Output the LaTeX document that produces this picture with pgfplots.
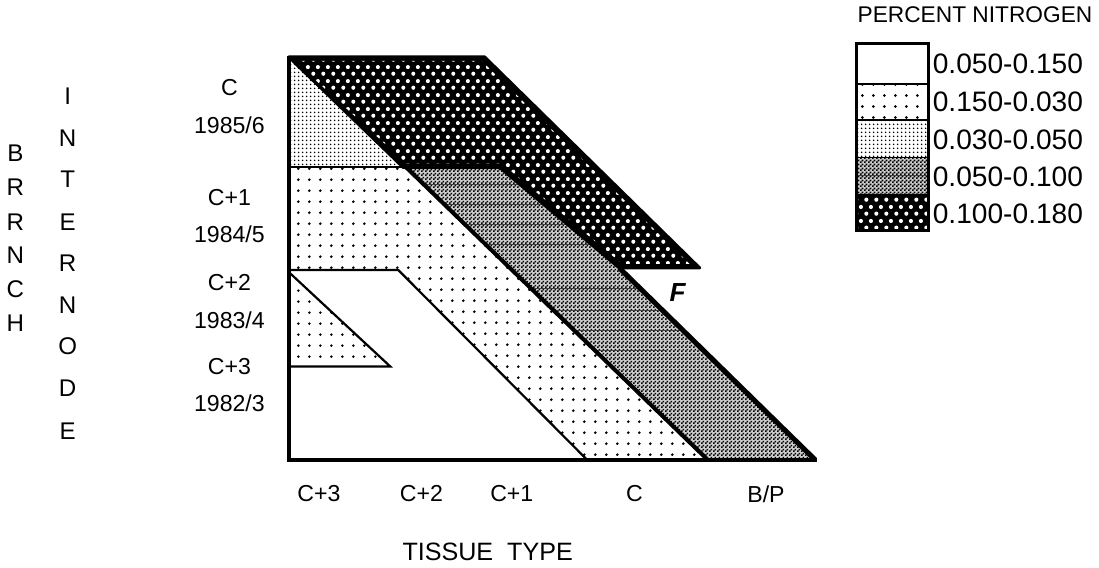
\documentclass[border=0pt]{standalone}
\usepackage{pgfplots}
\pgfplotsset{compat=1.18}
\usepackage{fontspec}
\setmainfont{Liberation Sans}
\usetikzlibrary{patterns}

% sparse dots: 0.150-0.030
\pgfdeclarepatternformonly{sparsedots}{\pgfqpoint{0pt}{0pt}}{\pgfqpoint{5.4pt}{5.4pt}}{\pgfqpoint{5.4pt}{5.4pt}}{%
  \pgfpathcircle{\pgfqpoint{2.7pt}{2.7pt}}{0.75pt}\pgfusepath{fill}}
% fine dots: 0.030-0.050
\pgfdeclarepatternformonly{finedots}{\pgfqpoint{0pt}{0pt}}{\pgfqpoint{2pt}{2pt}}{\pgfqpoint{2pt}{2pt}}{%
  \pgfpathcircle{\pgfqpoint{1pt}{1pt}}{0.52pt}\pgfusepath{fill}}
% checker: 0.050-0.100
\pgfdeclarepatternformonly{checker}{\pgfqpoint{0pt}{0pt}}{\pgfqpoint{2pt}{2pt}}{\pgfqpoint{2pt}{2pt}}{%
  \pgfpathrectangle{\pgfqpoint{0pt}{0pt}}{\pgfqpoint{1pt}{1pt}}%
  \pgfpathrectangle{\pgfqpoint{1pt}{1pt}}{\pgfqpoint{1pt}{1pt}}\pgfusepath{fill}}
% white holes on black: 0.100-0.180
\pgfdeclarepatternformonly{holes}{\pgfqpoint{0pt}{0pt}}{\pgfqpoint{5pt}{7pt}}{\pgfqpoint{5pt}{7pt}}{%
  \pgfpathcircle{\pgfqpoint{1.25pt}{1.75pt}}{1.1pt}%
  \pgfpathcircle{\pgfqpoint{3.75pt}{5.25pt}}{1.1pt}\pgfusepath{fill}}

\pgfplotsset{
  lvlA/.style={fill=white, draw=none},
  lvlB/.style={pattern=sparsedots, pattern color=black, draw=none},
  lvlC/.style={pattern=finedots, pattern color=black, draw=none},
  lvlD/.style={pattern=checker, pattern color=black, draw=none},
  lvlE/.style={pattern=holes, pattern color=white, draw=none},
  hatchline/.style={black!75, line width=0.5pt},
}

\begin{document}
\begin{tikzpicture}
\begin{axis}[
  width=549.5pt, height=287.5pt, scale only axis,
  xmin=0, xmax=1099, ymin=0, ymax=575, y dir=reverse,
  hide axis, clip=false,
]
% ---- regions of the diagram ----
% 0.150-0.030, internode C+1 band
\addplot[lvlB] coordinates {(288,170) (405,170) (705,461) (585,461) (397,272) (288,272)} -- cycle;
% 0.150-0.030, C+2 triangle
\addplot[lvlB] coordinates {(288,274) (389,368) (288,368)} -- cycle;
% 0.030-0.050, C triangle
\addplot[lvlC] coordinates {(288,60) (402,170) (288,170)} -- cycle;
% 0.050-0.100 band
\addplot[fill=gray!40, draw=none] coordinates {(405,170) (498,170) (617,270) (812,461) (705,461)} -- cycle;
\addplot[lvlD] coordinates {(405,170) (498,170) (617,270) (812,461) (705,461)} -- cycle;
\addplot[hatchline] coordinates {(423,187) (518,187)};
\addplot[hatchline] coordinates {(443,207) (542,207)};
\addplot[hatchline] coordinates {(464,227) (566,227)};
\addplot[hatchline] coordinates {(484,247) (590,247)};
\addplot[hatchline] coordinates {(529,290) (637,290)};
\addplot[hatchline] coordinates {(551,312) (660,312)};
\addplot[hatchline] coordinates {(572,332) (680,332)};
\addplot[hatchline] coordinates {(593,352) (663,352)};
% 0.100-0.180 band
\addplot[fill=black, draw=black, line width=1.5pt, line join=round] coordinates {(288,60) (483,60) (697,270) (617,270) (498,170) (402,170)} -- cycle;
\addplot[lvlE] coordinates {(294,64) (480,64) (687,266) (620,266) (500,166) (405,166)} -- cycle;

% ---- boundary lines ----
\addplot[black, line width=1pt] coordinates {(288,170) (405,170)};
\addplot[black, line width=1.1pt] coordinates {(288,272) (397,272) (585,461)};
\addplot[black, line width=1.1pt] coordinates {(288,274) (389,368) (288,368)};
\addplot[black, line width=2pt] coordinates {(405,170) (705,461)};
\addplot[black, line width=2.5pt] coordinates {(617,270) (812,461)};
\addplot[black, line width=2pt] coordinates {(288,59) (288,461) (814,461)};

% ---- legend boxes ----
\addplot[lvlA] coordinates {(853,47) (925,47) (925,87) (853,87)} -- cycle;
\addplot[lvlB] coordinates {(853,87) (925,87) (925,123) (853,123)} -- cycle;
\addplot[lvlC] coordinates {(853,123) (925,123) (925,160) (853,160)} -- cycle;
\addplot[fill=gray!40, draw=none] coordinates {(853,160) (925,160) (925,197) (853,197)} -- cycle;
\addplot[lvlD] coordinates {(853,160) (925,160) (925,197) (853,197)} -- cycle;
\addplot[hatchline] coordinates {(853,178) (925,178)};
\addplot[fill=black, draw=none] coordinates {(853,197) (925,197) (925,233) (853,233)} -- cycle;
\addplot[lvlE] coordinates {(853,197) (925,197) (925,233) (853,233)} -- cycle;
\addplot[black, line width=1.5pt] coordinates {(853,47) (925,47) (925,233) (853,233)} -- cycle;
\addplot[black, line width=0.8pt] coordinates {(853,87) (925,87)};
\addplot[black, line width=0.8pt] coordinates {(853,123) (925,123)};
\addplot[black, line width=0.8pt] coordinates {(853,160) (925,160)};
\addplot[black, line width=0.8pt] coordinates {(853,197) (925,197)};

% ---- legend text ----
\node[anchor=center, font=\fontsize{11.3}{12}\selectfont] at (axis cs:971,18) {PERCENT NITROGEN};
\node[anchor=west, font=\fontsize{14}{16}\selectfont] at (axis cs:922,67) {0.050-0.150};
\node[anchor=west, font=\fontsize{14}{16}\selectfont] at (axis cs:922,105) {0.150-0.030};
\node[anchor=west, font=\fontsize{14}{16}\selectfont] at (axis cs:922,142) {0.030-0.050};
\node[anchor=west, font=\fontsize{14}{16}\selectfont] at (axis cs:922,179) {0.050-0.100};
\node[anchor=west, font=\fontsize{14}{16}\selectfont] at (axis cs:922,216) {0.100-0.180};

% ---- internode labels ----
\node[font=\fontsize{11.5}{13}\selectfont] at (axis cs:229,90) {C};
\node[font=\fontsize{11.5}{13}\selectfont] at (axis cs:229,128) {1985/6};
\node[font=\fontsize{11.5}{13}\selectfont] at (axis cs:229,200) {C+1};
\node[font=\fontsize{11.5}{13}\selectfont] at (axis cs:229,236) {1984/5};
\node[font=\fontsize{11.5}{13}\selectfont] at (axis cs:229,285) {C+2};
\node[font=\fontsize{11.5}{13}\selectfont] at (axis cs:229,322) {1983/4};
\node[font=\fontsize{11.5}{13}\selectfont] at (axis cs:229,368) {C+3};
\node[font=\fontsize{11.5}{13}\selectfont] at (axis cs:229,405) {1982/3};
% ---- tissue labels ----
\node[font=\fontsize{11.5}{13}\selectfont] at (axis cs:318,495) {C+3};
\node[font=\fontsize{11.5}{13}\selectfont] at (axis cs:420,495) {C+2};
\node[font=\fontsize{11.5}{13}\selectfont] at (axis cs:510,495) {C+1};
\node[font=\fontsize{11.5}{13}\selectfont] at (axis cs:632,495) {C};
\node[font=\fontsize{11.5}{13}\selectfont] at (axis cs:763,495) {B/P};
\node[font=\fontsize{13}{15}\selectfont\bfseries\itshape] at (axis cs:675,294) {F};
\node[font=\fontsize{12.5}{14}\selectfont] at (axis cs:486,553) {TISSUE\ \ TYPE};

% ---- stacked axis titles ----
\node[font=\fontsize{12}{14}\selectfont] at (axis cs:16,156) {B};
\node[font=\fontsize{12}{14}\selectfont] at (axis cs:16,190) {R};
\node[font=\fontsize{12}{14}\selectfont] at (axis cs:16,224) {R};
\node[font=\fontsize{12}{14}\selectfont] at (axis cs:16,257) {N};
\node[font=\fontsize{12}{14}\selectfont] at (axis cs:16,291) {C};
\node[font=\fontsize{12}{14}\selectfont] at (axis cs:16,325) {H};
\node[font=\fontsize{12}{14}\selectfont] at (axis cs:68,99) {I};
\node[font=\fontsize{12}{14}\selectfont] at (axis cs:68,141) {N};
\node[font=\fontsize{12}{14}\selectfont] at (axis cs:68,182) {T};
\node[font=\fontsize{12}{14}\selectfont] at (axis cs:68,224) {E};
\node[font=\fontsize{12}{14}\selectfont] at (axis cs:68,265) {R};
\node[font=\fontsize{12}{14}\selectfont] at (axis cs:68,307) {N};
\node[font=\fontsize{12}{14}\selectfont] at (axis cs:68,348) {O};
\node[font=\fontsize{12}{14}\selectfont] at (axis cs:68,390) {D};
\node[font=\fontsize{12}{14}\selectfont] at (axis cs:68,432) {E};
\end{axis}
\end{tikzpicture}
\end{document}
